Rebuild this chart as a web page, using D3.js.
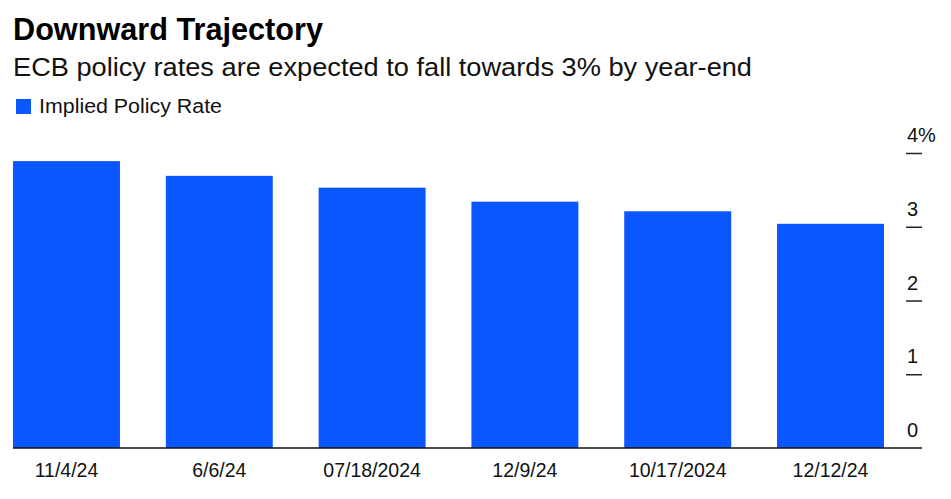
<!DOCTYPE html>
<html>
<head>
<meta charset="utf-8">
<script src="https://cdn.jsdelivr.net/npm/d3@7"></script>
<style>
  body { margin: 0; background: #fff; }
  svg { display: block; font-family: "Liberation Sans", Arial, sans-serif; }
</style>
</head>
<body>
<svg id="chart" width="951" height="499"></svg>
<script>
// Chart data
const dates = ['11/4/24', '6/6/24', '07/18/2024', '12/9/24', '10/17/2024', '12/12/24'];
const rates = [3.89, 3.69, 3.53, 3.34, 3.21, 3.04];
const yTicks = [0, 1, 2, 3, 4];

const barColor = '#0b57ff';
const font = '"Liberation Sans", Arial, sans-serif';

const svg = d3.select('#chart');

// Titles
svg.append('text')
    .attr('x', 13).attr('y', 40)
    .attr('font-size', 30.5).attr('font-weight', 'bold')
    .attr('fill', '#000')
    .attr('textLength', 310)
    .attr('lengthAdjust', 'spacingAndGlyphs')
    .text('Downward Trajectory');

svg.append('text')
    .attr('x', 13).attr('y', 76)
    .attr('font-size', 25)
    .attr('fill', '#111')
    .attr('textLength', 739)
    .attr('lengthAdjust', 'spacingAndGlyphs')
    .text('ECB policy rates are expected to fall towards 3% by year-end');

// Legend
svg.append('rect')
    .attr('x', 16).attr('y', 99)
    .attr('width', 15).attr('height', 15)
    .attr('fill', barColor);

svg.append('text')
    .attr('x', 39).attr('y', 113)
    .attr('font-size', 20)
    .attr('fill', '#111')
    .attr('textLength', 183)
    .attr('lengthAdjust', 'spacingAndGlyphs')
    .text('Implied Policy Rate');

// Scales
const x = d3.scaleBand()
    .domain(dates)
    .range([13, 884])
    .paddingInner(0.3)
    .paddingOuter(0);

const y = d3.scaleLinear()
    .domain([0, 4])
    .range([448, 153]);

// Bars
svg.append('g')
    .selectAll('rect')
    .data(rates)
    .join('rect')
    .attr('x', (d, i) => x(dates[i]))
    .attr('y', d => y(d))
    .attr('width', x.bandwidth())
    .attr('height', d => y(0) - y(d))
    .attr('fill', barColor);

// Baseline
svg.append('line')
    .attr('x1', 13).attr('x2', 922)
    .attr('y1', y(0)).attr('y2', y(0))
    .attr('stroke', '#111')
    .attr('stroke-width', 1.5);

// Y axis on the right, labels sitting above short ticks
const yAxis = svg.append('g')
    .attr('transform', 'translate(906,0)')
    .call(d3.axisRight(y)
        .tickValues(yTicks)
        .tickSize(16)
        .tickFormat(d => d === 4 ? '4%' : d));

yAxis.select('.domain').remove();
yAxis.selectAll('.tick line')
    .attr('stroke', '#222')
    .attr('stroke-width', 1.5)
    .attr('opacity', d => d === 0 ? 0 : 1);
yAxis.selectAll('.tick text')
    .attr('x', 1)
    .attr('dy', -11.5)
    .attr('text-anchor', 'start')
    .attr('font-size', 20)
    .attr('font-family', font)
    .attr('fill', '#111');

// X axis labels
const xAxis = svg.append('g')
    .attr('transform', `translate(0,${y(0)})`)
    .call(d3.axisBottom(x).tickSize(0).tickPadding(0));

xAxis.select('.domain').remove();
xAxis.selectAll('.tick text')
    .attr('y', 29)
    .attr('dy', 0)
    .attr('font-size', 19.5)
    .attr('font-family', font)
    .attr('fill', '#111');
</script>
</body>
</html>
